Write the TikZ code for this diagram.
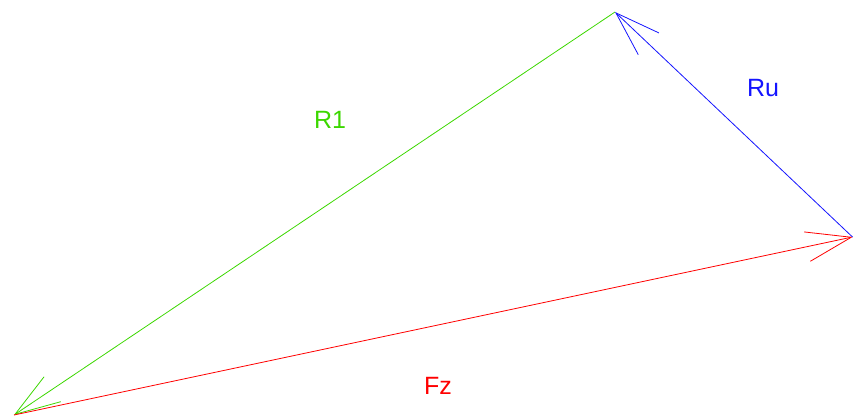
\documentclass[tikz,border=0pt]{standalone}
\usepackage{fontspec}
\setmainfont{Liberation Sans}
\usetikzlibrary{arrows.meta}
\definecolor{vgreen}{RGB}{60,215,0}
\definecolor{vblue}{RGB}{20,20,255}
\definecolor{vred}{RGB}{255,0,0}
\begin{document}
\begin{tikzpicture}[x=1pt,y=-1pt,
  vec/.style={line width=0.8pt,-{Straight Barb[length=45pt,width=30pt,line width=0.8pt]}},
  lbl/.style={font=\fontsize{25}{30}\selectfont,inner sep=0pt}]
\useasboundingbox (0,0) rectangle (853,417);
\coordinate (A) at (14,415);
\coordinate (B) at (615,12);
\coordinate (C) at (852.5,237);
\draw[vec,vgreen] (B) -- (A);
\draw[vec,vblue] (C) -- (B);
\draw[vec,vred] (A) -- (C);
\node[lbl,text=vgreen] (r1) at (330,120) {R1};
\node[lbl,text=vblue] (ru) at (763,88) {Ru};
\node[lbl,text=vred] (fz) at (438,386) {Fz};
\end{tikzpicture}
\end{document}
